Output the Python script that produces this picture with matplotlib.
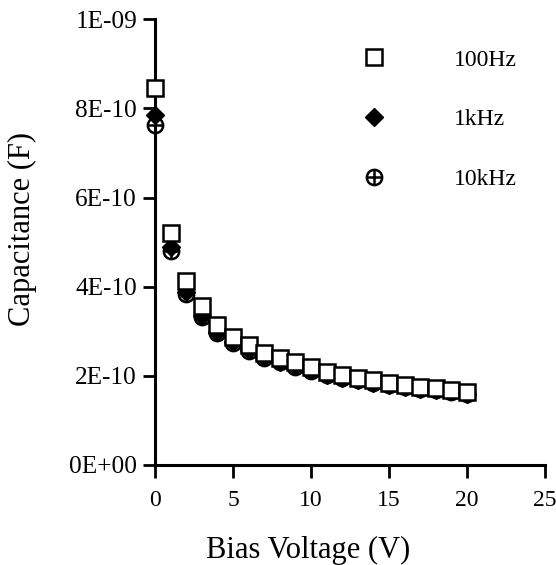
import matplotlib
matplotlib.use("Agg")
import matplotlib.pyplot as plt
from matplotlib.ticker import FuncFormatter
from matplotlib.legend_handler import HandlerTuple

# Bias voltage (V)
bias = [0, 1, 2, 3, 4, 5, 6, 7, 8, 9, 10, 11, 12, 13, 14, 15, 16, 17, 18, 19, 20]

# Capacitance (F) at each frequency
cap_100hz = [8.45e-10, 5.2e-10, 4.12e-10, 3.56e-10, 3.15e-10, 2.88e-10, 2.70e-10,
             2.52e-10, 2.41e-10, 2.30e-10, 2.19e-10, 2.08e-10, 2.01e-10, 1.96e-10,
             1.90e-10, 1.84e-10, 1.79e-10, 1.74e-10, 1.73e-10, 1.68e-10, 1.63e-10]
cap_1khz = [7.85e-10, 4.88e-10, 3.88e-10, 3.34e-10, 2.98e-10, 2.75e-10, 2.57e-10,
            2.42e-10, 2.31e-10, 2.21e-10, 2.12e-10, 2.03e-10, 1.96e-10, 1.91e-10,
            1.85e-10, 1.80e-10, 1.75e-10, 1.71e-10, 1.69e-10, 1.65e-10, 1.60e-10]
cap_10khz = [7.62e-10, 4.80e-10, 3.84e-10, 3.31e-10, 2.96e-10, 2.73e-10, 2.55e-10,
             2.41e-10, 2.30e-10, 2.20e-10, 2.11e-10, 2.02e-10, 1.95e-10, 1.90e-10,
             1.84e-10, 1.79e-10, 1.74e-10, 1.70e-10, 1.68e-10, 1.64e-10, 1.59e-10]

labels = ["100Hz", "1kHz", "10kHz"]

plt.rcParams["font.family"] = ["Liberation Serif", "DejaVu Serif"]

fig = plt.figure(figsize=(5.56, 5.65), dpi=100)
ax = fig.add_axes([0.279, 0.177, 0.701, 0.789])

# 10kHz: open circle with a cross through it
c1, = ax.plot(bias, cap_10khz, linestyle="none", marker="o", markersize=11,
              markerfacecolor="none", markeredgecolor="black", markeredgewidth=1.8,
              clip_on=False, zorder=3)
c2, = ax.plot(bias, cap_10khz, linestyle="none", marker="+", markersize=11,
              color="black", markeredgewidth=1.8, clip_on=False, zorder=3)
d, = ax.plot(bias, cap_1khz, linestyle="none", marker="D", markersize=9.5,
             color="black", clip_on=False, zorder=4)
s, = ax.plot(bias, cap_100hz, linestyle="none", marker="s", markersize=11.5,
             markerfacecolor="white", markeredgecolor="black", markeredgewidth=1.8,
             clip_on=False, zorder=5)

ax.set_xlim(0, 25)
ax.set_ylim(0, 1e-9)
ax.set_xticks([0, 5, 10, 15, 20, 25])
ax.set_yticks([0, 2e-10, 4e-10, 6e-10, 8e-10, 1e-9])
ax.yaxis.set_major_formatter(FuncFormatter(lambda v, p: f"{v:.0E}"))

for side in ["top", "right"]:
    ax.spines[side].set_visible(False)
for side in ["left", "bottom"]:
    ax.spines[side].set_linewidth(2.2)
ax.tick_params(direction="out", length=9, width=2)
ax.tick_params(axis="y", pad=4, labelsize=18.2)
ax.tick_params(axis="x", pad=9, labelsize=17)

ax.set_xlabel("Bias Voltage (V)", fontsize=22)
ax.set_ylabel("Capacitance (F)", fontsize=22)
ax.xaxis.set_label_coords(308 / 556, 1 - 550 / 565, transform=fig.transFigure)
ax.yaxis.set_label_coords(22 / 556, 1 - 229 / 565, transform=fig.transFigure)
ax.xaxis.label.set_verticalalignment("center")
ax.yaxis.label.set_verticalalignment("center")

ax.legend([s, d, (c1, c2)], labels, loc="upper left", frameon=False,
          fontsize=17, handletextpad=2.4, labelspacing=1.62, borderpad=0,
          borderaxespad=0, handlelength=2.0,
          handler_map={tuple: HandlerTuple(ndivide=1, pad=0)},
          bbox_to_anchor=(350 / 556, 1 - 49 / 565), bbox_transform=fig.transFigure)

fig.savefig("out.png", dpi=100)
